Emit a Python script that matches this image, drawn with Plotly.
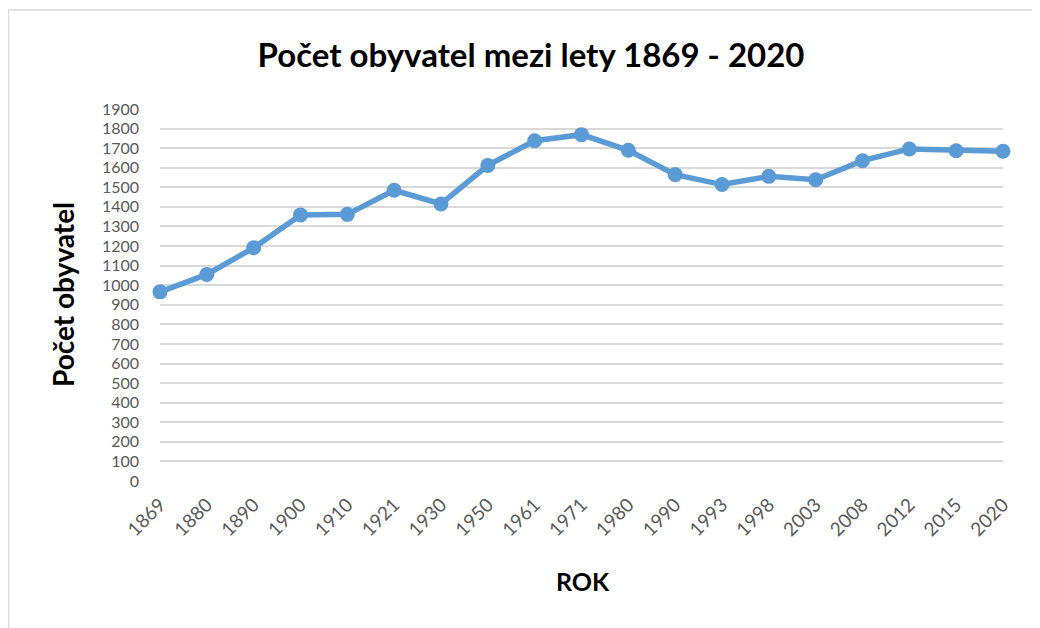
import plotly.graph_objects as go

years = ["1869", "1880", "1890", "1900", "1910", "1921", "1930", "1950", "1961", "1971",
         "1980", "1990", "1993", "1998", "2003", "2008", "2012", "2015", "2020"]
population = [966, 1055, 1191, 1359, 1362, 1485, 1415, 1612, 1738, 1769,
              1689, 1565, 1514, 1556, 1539, 1636, 1696, 1687, 1684]
y_ticks = list(range(0, 2000, 100))

W, H = 1040, 628
OFF = 8  # page body margin
L, R, T, B = 152, 45, 101, 155
pw, ph = W - L - R, H - T - B

def px(x):
    return (x - OFF - L) / pw

def py(y):
    return (H - B - (y - OFF)) / ph

fig = go.Figure()
fig.add_trace(go.Scatter(
    x=years, y=population, mode="lines+markers",
    line=dict(color="#5B9BD5", width=5.5),
    marker=dict(color="#5B9BD5", size=15),
    cliponaxis=False, showlegend=False,
))

fig.update_layout(
    width=W, height=H,
    margin=dict(l=L, r=R, t=T, b=B),
    paper_bgcolor="white", plot_bgcolor="white",
    font=dict(family="Lato", color="#595959"),
    title=dict(text="<b>Počet obyvatel mezi lety 1869 - 2020</b>",
               x=(531 - OFF) / W, xanchor="center", y=1 - (55 - OFF) / H, yanchor="middle",
               yref="container", xref="container",
               font=dict(family="Lato", size=33, color="black")),
    xaxis=dict(type="category", range=[0, len(years) - 1], showgrid=False,
               tickangle=-45, tickfont=dict(size=19, color="#595959"),
               showline=False, zeroline=False, ticks="", ticklabelstandoff=8),
    yaxis=dict(range=[0, 1900], tickvals=y_ticks, showgrid=True,
               gridcolor="#D9D9D9", gridwidth=2, zeroline=False,
               tickfont=dict(size=16, color="#595959"), ticks="",
               ticklabelstandoff=20),
    shapes=[dict(type="rect", xref="paper", yref="paper",
                 x0=px(8.5), x1=px(1060), y0=py(650), y1=py(10),
                 line=dict(color="#D9D9D9", width=1.5), layer="below")],
    annotations=[
        dict(text="<b>Počet obyvatel</b>", xref="paper", yref="paper",
             x=px(63), y=0.5, textangle=-90, showarrow=False,
             font=dict(family="Lato", size=28, color="black"),
             xanchor="center", yanchor="middle"),
        dict(text="<b>ROK</b>", xref="paper", yref="paper",
             x=px(583), y=py(581), showarrow=False,
             font=dict(family="Lato", size=25, color="black"),
             xanchor="center", yanchor="middle"),
    ],
)

fig.write_html("out.html")
